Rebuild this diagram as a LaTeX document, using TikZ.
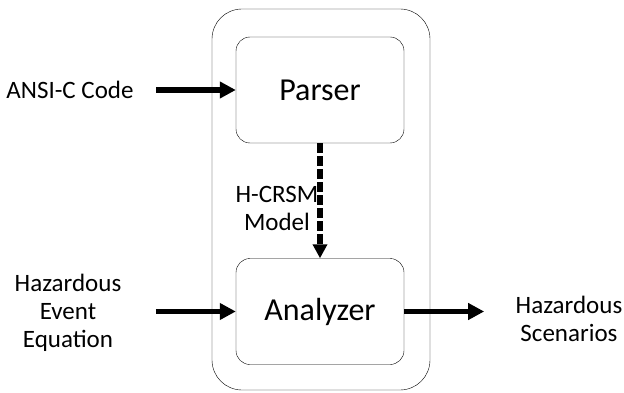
\documentclass[tikz,border=0pt]{standalone}
\usepackage{fontspec}
\setmainfont{Carlito}
\usetikzlibrary{arrows.meta, positioning, fit}

\begin{document}
\begin{tikzpicture}[x=1pt, y=-1pt]
\tikzstyle{blockbox} = [rectangle, draw, rounded corners=14pt, minimum width=168pt, minimum height=106pt, font=\fontsize{32}{36}\selectfont]
\tikzstyle{label} = [align=center, font=\fontsize{25}{28}\selectfont]
\tikzstyle{arrow} = [line width=5.5pt, -{Triangle[length=16pt, width=16pt]}]

\useasboundingbox (0,0) rectangle (624,393);

\node (parser) [blockbox] at (320,90) {Parser};
\node (analyzer) [blockbox] at (320,311.5) {Analyzer};
\node (tool) [draw, rounded corners=30pt, inner sep=0pt, fit={(212,9) (430,390)}] {};

\node (ansi) [label] at (70,90) {ANSI-C Code};
\node (event) [label] at (68,312.5) {Hazardous\\Event\\Equation};
\node (scen) [label] at (569,319) {Hazardous\\Scenarios};
\node (model) [label] at (277,208) {H-CRSM\\Model};

\draw [arrow, shorten <=19pt] (ansi) -- (parser);
\draw [arrow, shorten <=31pt] (event.east |- analyzer) -- (analyzer);
\draw [arrow, shorten >=28pt] (analyzer) -- (scen.west |- analyzer);
\draw [arrow, line width=6pt, dash pattern=on 10pt off 3pt, -{Triangle[length=14pt, width=14pt]}] (parser) -- (analyzer);

\end{tikzpicture}
\end{document}
